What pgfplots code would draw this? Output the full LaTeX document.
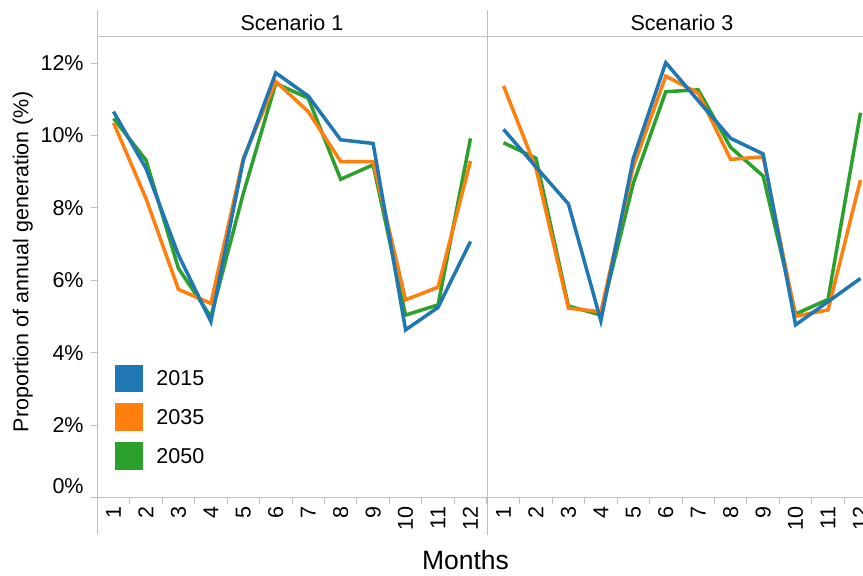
\documentclass[border=0pt]{standalone}
\usepackage{pgfplots}
\pgfplotsset{compat=1.18}
\usepackage{pgfplotstable}
\usepackage{fontspec}
\setmainfont{Liberation Sans}
\definecolor{c2015}{HTML}{1F77B4}
\definecolor{c2035}{HTML}{FF7F0E}
\definecolor{c2050}{HTML}{2CA02C}
\definecolor{gridgray}{RGB}{190,190,190}
\newcommand{\fs}{\fontsize{21.5}{25}\selectfont}

\pgfplotstableread{
m y2015 y2035 y2050
1 10.66 10.35 10.47
2 9.09 8.26 9.32
3 6.70 5.75 6.33
4 4.86 5.36 4.99
5 9.32 9.37 8.40
6 11.73 11.49 11.44
7 11.09 10.66 11.03
8 9.88 9.28 8.79
9 9.78 9.28 9.19
10 4.63 5.46 5.04
11 5.25 5.81 5.32
12 7.07 9.30 9.92
}\scenA

\pgfplotstableread{
m y2015 y2035 y2050
1 10.17 11.37 9.80
2 9.13 9.09 9.37
3 8.11 5.23 5.29
4 4.88 5.13 5.04
5 9.37 9.14 8.68
6 12.01 11.64 11.21
7 10.96 11.17 11.26
8 9.92 9.34 9.67
9 9.49 9.41 8.88
10 4.77 5.01 5.07
11 5.41 5.18 5.47
12 6.05 8.77 10.63
}\scenC

\pgfplotsset{
  panel/.style={
    scale only axis,
    width=389.4pt, height=460.5pt,
    anchor=south west,
    ymin=0, ymax=12.72,
    axis line style={draw=none},
    tick pos=left,
    xtick={1,...,12},
    minor xtick={0.5,1.5,...,12.5},
    major tick length=6pt,
    minor tick length=6pt,
    tick align=outside,
    major x tick style={draw=none},
    minor x tick style={gridgray, line width=1pt},
    x tick label style={font=\fs, rotate=90, anchor=east, inner sep=3pt},
    /pgf/number format/assume math mode=true,
    every axis plot/.append style={line width=3.5pt, line join=miter},
  },
}

\begin{document}
\begin{tikzpicture}[x=1pt,y=1pt,font=\fs]
\path[use as bounding box] (0,0) rectangle (863,576);

% frame lines
\draw[gridgray, line width=1pt] (97.3,566) -- (97.3,41);
\draw[gridgray, line width=1pt] (487,566) -- (487,41);
\draw[gridgray, line width=1pt] (97.3,539) -- (863,539);
\draw[gridgray, line width=1pt] (91,78.5) -- (863,78.5);

\begin{axis}[panel,
  at={(97.3pt,78.5pt)},
  xmin=0.5, xmax=12.5,
  ytick={0,2,4,6,8,10,12},
  yticklabels={\raisebox{23pt}{0\%},2\%,4\%,6\%,8\%,10\%,12\%},
  y tick style={gridgray, line width=1pt},
  y tick label style={font=\fs, inner sep=7.5pt},
  reverse legend,
  legend style={at={(0.0455,0.2886)}, anchor=north west, draw=none, fill=none,
    inner sep=0pt, outer sep=0pt, row sep=11pt, font=\fs,
    nodes={inner sep=0pt},
    /tikz/every odd column/.append style={column sep=13.4pt}},
  legend cell align=left,
  legend image code/.code={\fill[#1,draw=none] (0pt,-13.1pt) rectangle (28pt,14.6pt);},
]
\addplot[c2050] table[x=m, y=y2050] {\scenA};
\addlegendentry{2050}
\addplot[c2035] table[x=m, y=y2035] {\scenA};
\addlegendentry{2035}
\addplot[c2015] table[x=m, y=y2015] {\scenA};
\addlegendentry{2015}
\end{axis}

\begin{axis}[panel,
  at={(487.3pt,78.5pt)},
  width=375.7pt,
  xmin=0.5, xmax=12.078,
  ytick=\empty,
]
\addplot[c2050] table[x=m, y=y2050] {\scenC};
\addplot[c2035] table[x=m, y=y2035] {\scenC};
\addplot[c2015] table[x=m, y=y2015] {\scenC};
\end{axis}

\node[anchor=base] at (292,545.3) {Scenario 1};
\node[anchor=base] at (682,545.3) {Scenario 3};
\node[anchor=base, font=\fontsize{26.5}{30}\selectfont] at (465.5,6) {Months};
\node[rotate=90, anchor=base] at (28.3,314) {Proportion of annual generation (\%)};
\end{tikzpicture}
\end{document}
